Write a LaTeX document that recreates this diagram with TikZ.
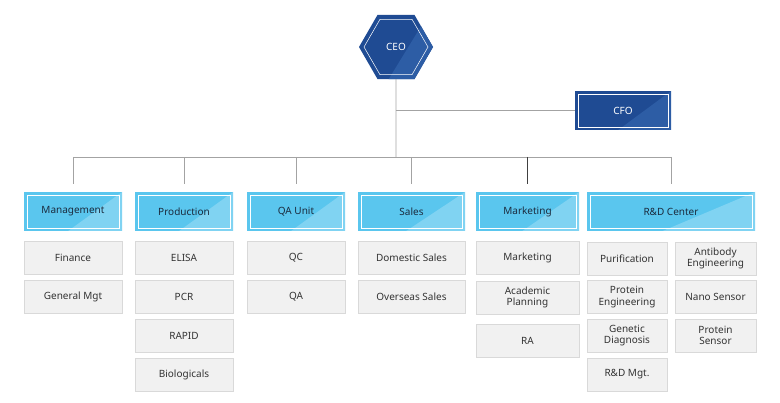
\documentclass[tikz,border=0pt]{standalone}
\usepackage{fontspec}
\setmainfont{Noto Sans}
\usetikzlibrary{shapes.geometric,calc}

\definecolor{navy}{HTML}{1F4B93}
\definecolor{navylight}{HTML}{2D5DA5}
\definecolor{sky}{HTML}{5AC6EE}
\definecolor{skylight}{HTML}{80D3F2}
\definecolor{subfill}{HTML}{F1F1F1}
\definecolor{subline}{HTML}{D9D9D9}
\definecolor{linkgray}{HTML}{A3A3A3}
\definecolor{headtext}{HTML}{1B2B3E}

\begin{document}
\begin{tikzpicture}[
		x=1pt, y=-1pt,
		every node/.append style={font=\fontsize{10}{11.5}\selectfont, align=center, inner sep=0pt},
		link/.style={draw=linkgray, line width=0.8pt},
		% lighter lower-right half of the coloured boxes
		sheen/.style={path picture={
				\fill[#1] (path picture bounding box.north east) -- (path picture bounding box.south east)
				-- ($(path picture bounding box.south west)!0.45!(path picture bounding box.south east)$) -- cycle;
				\draw[white, line width=0.5pt] ([shift={(3pt,-3pt)}]path picture bounding box.north west)
				rectangle ([shift={(-3pt,3pt)}]path picture bounding box.south east);
		}},
		boss/.style={fill=navy, text=white, minimum height=39pt, sheen=navylight},
		head/.style={fill=sky, text=headtext, minimum height=39pt, font=\fontsize{10}{11.5}\selectfont\bfseries, sheen=skylight},
		unit/.style={fill=subfill, draw=subline, line width=0.6pt, text=black!80, minimum height=33pt},
		ceobox/.style={regular polygon, regular polygon sides=6, minimum size=74pt, fill=navy, text=white,
			path picture={
				\fill[navylight] ([shift={(27pt,24pt)}]path picture bounding box.center) -- ++(27pt,0pt)
				-- ++(0pt,-72pt) -- ++(-71pt,0pt) -- cycle;
				\node[regular polygon, regular polygon sides=6, minimum size=64pt, draw=white, line width=0.5pt]
				at (path picture bounding box.center) {};
		}}
		]
		\useasboundingbox (0,0) rectangle (780,403);
		
		% Top
		\node[ceobox] (ceo) at (396,47) {CEO};
		\node[boss, minimum width=96pt] (cfo) at (623,110.5) {CFO};
		\coordinate (bus) at (396,157);
		\draw[link] (ceo.south) -- (bus);
		\draw[link] (ceo.south |- cfo.west) -- (cfo.west);
		
		% Departments
		\node[head, minimum width=98pt] (mgmt) at (73,211.5) {Management};
		\node[head, minimum width=98pt] (prod) at (184,211.5) {Production};
		\node[head, minimum width=98pt] (qa) at (296,211.5) {QA Unit};
		\node[head, minimum width=107pt] (sales) at (411.5,211.5) {Sales};
		\node[head, minimum width=103pt] (mkt) at (527.5,211.5) {Marketing};
		\node[head, minimum width=168pt] (rnd) at (671,211.5) {R\&D Center};
		
		\draw[link] (bus -| mgmt) -- (bus -| rnd);
		\foreach \d in {mgmt,prod,qa,sales,rnd}
		\draw[link] (bus -| \d) -- ([yshift=8pt]\d.north);
		\draw[link, draw=black!75] (bus -| mkt) -- ([yshift=8pt]mkt.north);
		
		% Management
		\node[unit, minimum width=98pt] (fin) at (73,258) {Finance};
		\node[unit, minimum width=98pt] (gen) at (73,296.5) {General Mgt};
		
		% Production
		\node[unit, minimum width=98pt] (elisa) at (184,258) {ELISA};
		\node[unit, minimum width=98pt] (pcr) at (184,296.5) {PCR};
		\node[unit, minimum width=98pt] (rapid) at (184,335.5) {RAPID};
		\node[unit, minimum width=98pt] (bio) at (184,374.5) {Biologicals};
		
		% QA Unit
		\node[unit, minimum width=98pt] (qc) at (296,258) {QC};
		\node[unit, minimum width=98pt] (qaa) at (296,296.5) {QA};
		
		% Sales
		\node[unit, minimum width=107pt] (dom) at (411.5,258) {Domestic Sales};
		\node[unit, minimum width=107pt] (over) at (411.5,296.5) {Overseas Sales};
		
		% Marketing
		\node[unit, minimum width=103pt] (mktg) at (527.5,258) {Marketing};
		\node[unit, minimum width=103pt] (acad) at (527.5,297.5) {Academic\\Planning};
		\node[unit, minimum width=103pt] (ra) at (527.5,340.5) {RA};
		
		% R&D Center
		\node[unit, minimum width=80pt] (puri) at (627,258.5) {Purification};
		\node[unit, minimum width=80pt] (peng) at (627,297) {Protein\\Engineering};
		\node[unit, minimum width=80pt] (gene) at (627,335.5) {Genetic\\Diagnosis};
		\node[unit, minimum width=80pt] (rmgt) at (627,374.5) {R\&D Mgt.};
		\node[unit, minimum width=81pt] (anti) at (715.5,258.5) {Antibody\\Engineering};
		\node[unit, minimum width=81pt] (nano) at (715.5,297) {Nano Sensor};
		\node[unit, minimum width=81pt] (psen) at (715.5,335.5) {Protein\\Sensor};
		
	\end{tikzpicture}
\end{document}
